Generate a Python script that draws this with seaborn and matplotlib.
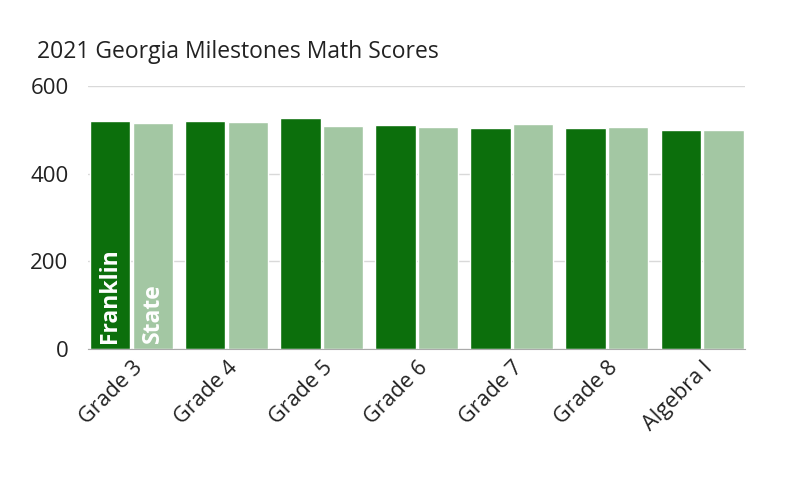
import pandas as pd
import matplotlib
matplotlib.use('Agg')
import matplotlib.pyplot as plt
import seaborn as sns

grades = ['Grade 3', 'Grade 4', 'Grade 5', 'Grade 6', 'Grade 7', 'Grade 8', 'Algebra I']
franklin = [520, 520, 527, 511, 505, 505, 499]
state = [515, 519, 509, 506, 514, 506, 500]
series = ['Franklin', 'State']

df = pd.DataFrame({
    'grade': grades * 2,
    'score': franklin + state,
    'school': ['Franklin'] * len(grades) + ['State'] * len(grades),
})

sns.set_style('white')
plt.rcParams['font.family'] = ['Open Sans', 'DejaVu Sans']

fig = plt.figure(figsize=(8, 5), dpi=100)
ax = fig.add_axes([0.11, 0.302, 0.821, 0.526])
sns.barplot(x='grade', y='score', hue='school', data=df, ax=ax,
            palette=['#0c6f0c', '#a3c7a3'], width=0.9, gap=0.06,
            saturation=1, legend=False)

ax.set_ylim(0, 600)
ax.set_yticks([0, 200, 400, 600])
ax.set_xlim(-0.46, len(grades) - 0.55)
ax.grid(axis='y', color='#d9d9d9', linewidth=1)
ax.set_axisbelow(True)
for s in ['top', 'right', 'left']:
    ax.spines[s].set_visible(False)
ax.spines['bottom'].set_color('#aaaaaa')
ax.tick_params(axis='y', length=0, labelsize=16, colors='#222222', pad=14)
ax.tick_params(axis='x', length=0, labelsize=15.5, colors='#222222', pad=6)
plt.setp(ax.get_xticklabels(), rotation=45, ha='right', rotation_mode='anchor')
ax.set_xlabel('')
ax.set_ylabel('')

# series names written inside the first pair of bars
for bar, name in zip([ax.patches[0], ax.patches[len(grades)]], series):
    cx = bar.get_x() + bar.get_width() / 2
    ax.text(cx, 14, name, rotation=90, ha='center', va='bottom',
            color='white', fontsize=16.5, fontweight='bold')

fig.text(0.046, 0.885, '2021 Georgia Milestones Math Scores', fontsize=16.5, color='#222222')

plt.savefig('out.png', dpi=100)
